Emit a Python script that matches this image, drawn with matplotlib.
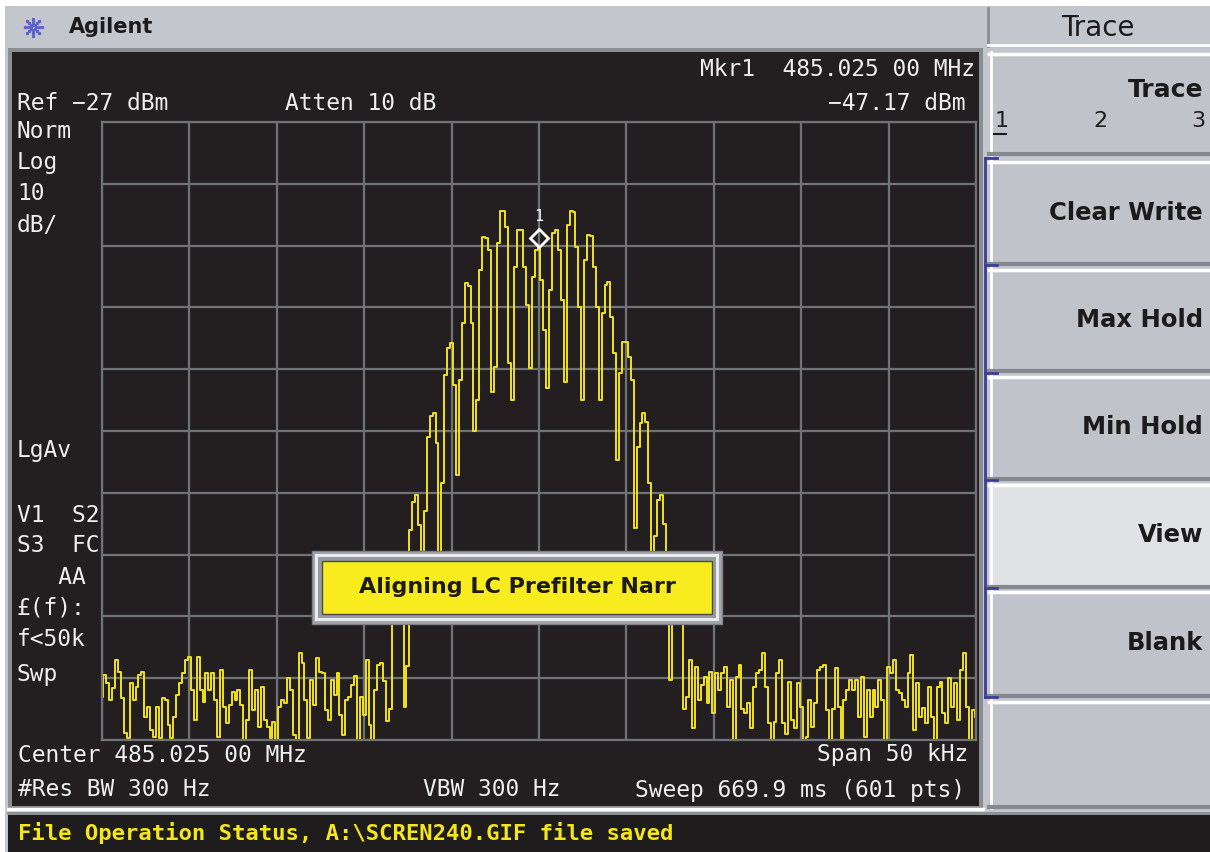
import numpy as np
import matplotlib.pyplot as plt
from matplotlib.patches import Rectangle
from matplotlib import transforms

# analyzer settings
center_mhz = 485.025
span_khz = 50
ref_dbm = -27
db_per_div = 10
n_div = 10
mkr_offset_khz = 0.0
mkr_dbm = -47.17

# trace (every 2nd of the 601 points), dBm
noise_left = [-120.0, -116.5, -117.8, -120.5, -118.6, -114.1, -116.0, -120.2, -125.9, -126.7,
              -117.8, -120.5, -118.4, -116.5, -116.0, -123.3, -121.7, -125.4, -126.5, -121.7,
              -126.7, -120.2, -120.5, -124.6, -126.7, -123.3, -119.7, -117.8, -116.2, -114.1,
              -113.6, -118.9, -123.8, -113.6, -118.9, -120.8, -116.2, -118.9, -116.2, -120.5,
              -126.5, -115.7, -121.7, -124.3, -121.3, -119.2, -120.5, -118.9, -121.3, -127.0,
              -123.8, -115.7, -122.1, -118.9, -124.9, -118.4, -123.8, -124.9, -126.7, -124.1,
              -127.0, -121.7, -120.5, -121.0, -117.0, -118.9, -126.2, -127.0, -112.9, -114.5,
              -120.5, -126.7, -117.3, -121.3, -113.7, -116.0, -116.2, -122.1, -123.8, -117.3,
              -119.7, -116.2, -123.0, -126.2, -120.5, -120.0, -118.1, -116.7, -127.0, -120.0,
              -123.0, -114.1, -124.6, -127.0, -118.9, -114.9]
signal = [-114.5, -117.5, -124.0, -122.0, -108.0, -103.0, -100.5, -106.0, -121.7, -115.0,
          -93.0, -88.5, -87.4, -92.2, -100.0, -90.0, -78.0, -74.5, -74.1, -79.0,
          -98.0, -85.4, -68.0, -63.5, -62.8, -69.6, -84.1, -68.7, -59.5, -53.0,
          -53.5, -59.5, -77.0, -72.0, -51.0, -45.6, -45.8, -47.7, -70.7, -66.6,
          -46.6, -41.4, -41.4, -44.0, -66.0, -72.0, -50.5, -44.5, -44.5, -50.5,
          -56.6, -66.8, -52.1, -47.7, -47.17, -52.6, -60.7, -70.0, -54.2, -45.0,
          -44.5, -47.7, -55.8, -69.0, -43.7, -41.4, -41.6, -47.2, -56.9, -72.0,
          -49.3, -45.3, -45.5, -50.5, -56.9, -72.0, -57.9, -53.4, -52.9, -58.6,
          -64.4, -81.7, -67.6, -62.6, -62.6, -65.0, -68.7, -92.7, -79.6, -75.7,
          -74.1, -75.5, -85.4, -99.0, -94.0, -88.2, -87.4, -92.0, -100.0, -117.3,
          -106.0, -102.0, -100.5, -108.0, -122.0, -120.0, -114.1, -125.0, -115.2]
noise_right = [-120.5, -118.1, -116.8, -121.0, -116.0, -122.6, -116.2, -118.9, -116.2, -115.2,
               -121.7, -117.3, -127.0, -116.8, -114.9, -122.0, -122.6, -121.0, -125.0, -118.4,
               -116.2, -115.7, -112.9, -118.4, -124.3, -127.0, -124.1, -116.2, -114.1, -124.3,
               -126.0, -117.6, -123.8, -125.0, -117.8, -121.7, -127.0, -126.5, -120.5, -124.9,
               -121.0, -115.7, -115.2, -114.9, -122.1, -127.0, -122.0, -115.3, -121.7, -127.0,
               -120.5, -118.9, -117.3, -118.9, -117.3, -123.3, -116.8, -126.5, -118.9, -123.3,
               -118.9, -121.7, -117.3, -120.5, -127.0, -115.2, -116.2, -114.1, -118.9, -119.4,
               -120.5, -121.7, -116.2, -113.2, -125.4, -117.8, -123.3, -121.8, -124.3, -118.4,
               -123.3, -127.0, -118.4, -117.6, -122.6, -124.3, -117.0, -121.7, -117.8, -123.8,
               -115.7, -112.9, -121.7, -127.0, -122.1, -123.3]

softkeys = ["Clear Write", "Max Hold", "Min Hold", "View", "Blank", ""]

trace_dbm = noise_left + signal + noise_right
freq = np.linspace(-span_khz / 2, span_khz / 2, len(trace_dbm))

W, H = 1210, 852
fig = plt.figure(figsize=(W / 100, H / 100), dpi=100, facecolor='white')


def px_axes(x0, y0, x1, y1, z):
    a = fig.add_axes([x0 / W, 1 - y1 / H, (x1 - x0) / W, (y1 - y0) / H], zorder=z)
    return a


bg = fig.add_axes([0, 0, 1, 1], zorder=0)
bg.set_xlim(0, W)
bg.set_ylim(H, 0)
bg.axis('off')

gray = '#c3c6cc'
screen = '#231f20'
bg.add_patch(Rectangle((5, 6), W, H, facecolor=gray, edgecolor='none'))

# instrument screen frame
bg.add_patch(Rectangle((8, 48), 975, 763, facecolor='#8a8d92', edgecolor='none'))
bg.add_patch(Rectangle((12, 52), 967, 754, facecolor=screen, edgecolor='none'))
bg.plot([8, 983], [809, 809], color='white', lw=2.5)

# status bar
bg.add_patch(Rectangle((8, 815), W, 40, facecolor='#1f1c1d', edgecolor='none'))
bg.plot([8, W], [813, 813], color='#8a8d92', lw=2)

# logo + title
for ang in np.arange(0, 360, 45):
    r = np.array([2.5, 5.5, 8.5])
    bg.plot(33 + r * np.cos(np.radians(ang)), 27 + r * np.sin(np.radians(ang)),
            ls='none', marker='s', ms=1.3, color='#5a64c8')
bg.text(69, 27, 'Agilent', fontsize=15, fontweight='bold', color='#1c1a1b',
        va='center', ha='left', family='DejaVu Sans')

# softkey panel
bg.add_patch(Rectangle((988, 8), 222, 38, facecolor=gray, edgecolor='none'))
bg.plot([988, 988], [8, 46], color='#8a8d92', lw=2)
bg.plot([988, W], [45, 45], color='white', lw=2)
bg.text(1098, 28, 'Trace', fontsize=20, color='#1c1a1b', ha='center', va='center')

btn_rows = [(52, 155), (160, 265), (268, 372), (375, 480), (483, 588), (590, 697), (700, 808)]
for n, (y0, y1) in enumerate(btn_rows):
    face = '#e0e2e6' if n == 4 else '#c0c3c9'
    bg.add_patch(Rectangle((989, y0), 221, y1 - y0, facecolor=face, edgecolor='none'))
    bg.plot([989, W], [y0 + 1.5, y0 + 1.5], color='white', lw=2.5)
    bg.plot([990.5, 990.5], [y0, y1], color='white', lw=2)
    bg.plot([989, W], [y1 - 1.5, y1 - 1.5], color='#85888e', lw=3)

bg.text(1203, 90, 'Trace', fontsize=18, fontweight='bold', color='#1c1a1b', ha='right', va='center')
bg.text(995, 121, '1', fontsize=16, color='#1c1a1b', ha='left', va='center')
bg.plot([994, 1006], [134, 134], color='#1c1a1b', lw=1.5)
bg.text(1100, 121, '2', fontsize=16, color='#1c1a1b', ha='center', va='center')
bg.text(1205, 121, '3', fontsize=16, color='#1c1a1b', ha='right', va='center')
for (y0, y1), name in zip(btn_rows[1:], softkeys):
    bg.text(1203, (y0 + y1) / 2, name, fontsize=17.5, fontweight='bold', color='#1c1a1b',
            ha='right', va='center')

# blue bracket
bg.plot([985, 985], [158, 697], color='#3a3e96', lw=2)
for yt in [158, 265, 373, 480, 588, 697]:
    bg.plot([985, 997], [yt, yt], color='#3a3e96', lw=2)

# trace graticule
ax = px_axes(102, 122, 976, 740, 1)
ax.set_facecolor(screen)
ax.set_xlim(-span_khz / 2, span_khz / 2)
ax.set_ylim(ref_dbm - n_div * db_per_div, ref_dbm)
ax.set_xticks(np.linspace(-span_khz / 2, span_khz / 2, n_div + 1))
ax.set_yticks(np.linspace(ref_dbm - n_div * db_per_div, ref_dbm, n_div + 1))
ax.tick_params(length=0, labelbottom=False, labelleft=False)
ax.grid(True, color='#6f7276', lw=1.6)
for s in ax.spines.values():
    s.set_color('#6f7276')
    s.set_linewidth(1.6)
ax.plot(freq, trace_dbm, color='#f2e21c', lw=1.4, drawstyle='steps-mid')

mk = transforms.offset_copy(ax.transData, fig=fig, x=0, y=9, units='dots')
ax.plot(mkr_offset_khz, mkr_dbm, marker='D', ms=9, mfc='none', mec='white', mew=2,
        transform=mk, clip_on=False)
lab = transforms.offset_copy(ax.transData, fig=fig, x=0, y=30, units='dots')
ax.text(mkr_offset_khz, mkr_dbm, '1', transform=lab, color='white', fontsize=11,
        ha='center', va='center', family='DejaVu Sans Mono')

# overlay: annotations and popup
ov = fig.add_axes([0, 0, 1, 1], zorder=3)
ov.set_xlim(0, W)
ov.set_ylim(H, 0)
ov.axis('off')
ov.patch.set_alpha(0)

mono = 'DejaVu Sans Mono'
tc = '#efefef'
fs = 16.5


def screen_text(x, y, s, ha='left'):
    ov.text(x, y, s, color=tc, fontsize=fs, family=mono, ha=ha, va='center')


screen_text(975, 70, 'Mkr1  %.3f 00 MHz' % center_mhz, 'right')
screen_text(17, 103, 'Ref %s%d dBm' % ('\u2212', abs(ref_dbm)))
screen_text(285, 103, 'Atten 10 dB')
screen_text(965, 103, '\u2212%.2f dBm' % abs(mkr_dbm), 'right')
for y, s in [(131, 'Norm'), (163, 'Log'), (194, '%d' % db_per_div), (225, 'dB/'),
             (451, 'LgAv'), (515, 'V1  S2'), (546, 'S3  FC'), (577, '   AA'),
             (608, '\u00a3(f):'), (640, 'f<50k'), (674, 'Swp')]:
    screen_text(17, y, s)
screen_text(18, 755, 'Center %.3f 00 MHz' % center_mhz)
screen_text(968, 755, 'Span %d kHz' % span_khz, 'right')
screen_text(18, 790, '#Res BW 300 Hz')
screen_text(423, 790, 'VBW 300 Hz')
screen_text(965, 790, 'Sweep 669.9 ms (601 pts)', 'right')

ov.text(18, 833, 'File Operation Status, A:\\SCREN240.GIF file saved', color='#f5e61b',
        fontsize=16, fontweight='bold', family=mono, ha='left', va='center')

# alignment popup
ov.add_patch(Rectangle((312, 551), 410, 73, facecolor='#a3a7ad', edgecolor='#7d8087', lw=1))
ov.add_patch(Rectangle((315, 554), 404, 67, facecolor='#e9eaec', edgecolor='none'))
ov.add_patch(Rectangle((318, 557), 398, 61, facecolor='#969aa1', edgecolor='none'))
ov.add_patch(Rectangle((322, 561), 390, 53, facecolor='#f8ec1e', edgecolor='#4a4a4a', lw=1))
ov.text(517, 587, 'Aligning LC Prefilter Narr', fontsize=16, fontweight='bold',
        color='#1c1a1b', ha='center', va='center')

fig.savefig('out.png', dpi=100, facecolor=fig.get_facecolor())
